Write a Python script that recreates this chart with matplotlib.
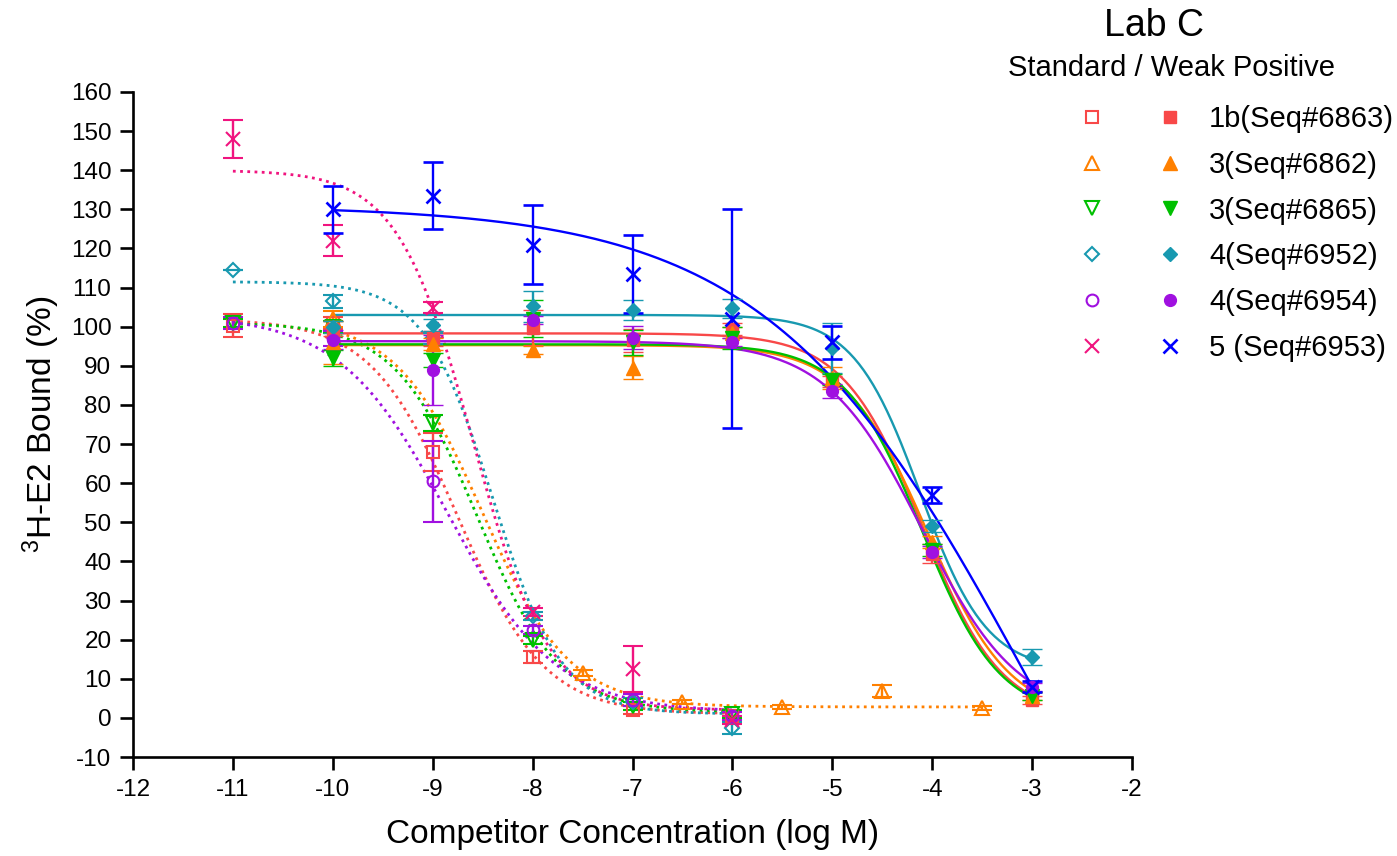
import numpy as np
import matplotlib
matplotlib.use('Agg')
import matplotlib.pyplot as plt
from matplotlib.lines import Line2D
from matplotlib.legend_handler import HandlerTuple

plt.rcParams['font.family'] = ['Liberation Sans', 'DejaVu Sans']
plt.rcParams['axes.unicode_minus'] = False
plt.rcParams['mathtext.fontset'] = 'custom'
plt.rcParams['mathtext.rm'] = 'Liberation Sans'

# ---------------- data ----------------
series_names = ['1b(Seq#6863)', '3(Seq#6862)', '3(Seq#6865)', '4(Seq#6952)', '4(Seq#6954)', '5 (Seq#6953)']
std_colors = ['#F84848', '#FF8000', '#00C000', '#1899B0', '#A010E0', '#F0147F']
weak_colors = ['#F84848', '#FF8000', '#00C000', '#1899B0', '#A010E0', '#0000FF']
markers = ['s', '^', 'v', 'D', 'o', 'x']
marker_sizes = [8.5, 9.5, 9.5, 7.5, 8.5, 10.5]

# Standard (open markers, dotted fits)
std_x = [-11, -10, -9, -8, -7, -6]
std_1b_y = [100.3, 101, 68, 15.5, 2, 0.5]
std_1b_err = [2.9, 1.5, 4.8, 1.5, 1, 1]
std_6862_x = [-10, -7.5, -6.5, -5.5, -4.5, -3.5]
std_6862_y = [102, 11.5, 4, 2.8, 6.8, 2.6]
std_6862_err = [2, 0.8, 0.5, 0.5, 1.5, 0.5]
std_6865_y = [101, 100, 75.4, 20, 3, 1]
std_6865_err = [1, 1.5, 2, 1, 1, 1]
std_6952_y = [114.5, 106.5, 97, 26, 4, -2.5]
std_6952_err = [0, 1.7, 1.5, 1, 1, 1.5]
std_6954_y = [101, 97, 60.5, 22.5, 4.5, 0.5]
std_6954_err = [1.5, 2, 10.3, 1, 1.5, 1]
std_6953_y = [148, 122, 104.8, 27, 12.5, -0.5]
std_6953_err = [4.8, 4, 1.4, 1, 5.8, 1]

# Weak positive (filled markers, solid fits)
weak_x = [-10, -9, -8, -7, -6, -5, -4, -3]
weak_1b_y = [99.5, 97, 99.7, 96.5, 99.5, 86, 42, 4.5]
weak_1b_err = [2, 2, 4.5, 3, 1.5, 1.5, 2.5, 1]
weak_6862_y = [96, 95.5, 94, 89.5, 98.5, 87, 45, 5.5]
weak_6862_err = [5.5, 1.5, 1, 2.9, 1.5, 2.8, 1.5, 1]
weak_6865_y = [92, 91.5, 102, 96, 97, 86.5, 43, 5.5]
weak_6865_err = [2, 1.8, 4.7, 3.2, 2.8, 1.5, 1.5, 1]
weak_6952_y = [100, 100.5, 105.2, 104.3, 104.7, 94.6, 49, 15.5]
weak_6952_err = [1.5, 1.5, 4, 2.5, 2.5, 6.4, 1.5, 2]
weak_6954_y = [96.7, 89, 101.8, 97.2, 96, 83.5, 42.5, 8]
weak_6954_err = [2.5, 9, 1, 3, 1, 1.8, 1.5, 1]
weak_6953_y = [130, 133.5, 121, 113.5, 102, 96, 57, 8]
weak_6953_err = [6, 8.5, 10, 10, 28, 4.3, 2, 1.5]

# Fitted 4-parameter logistic parameters (top, bottom, logIC50, hill) and fit ranges
std_fit_top = [102, 102, 101, 111.5, 103, 140]
std_fit_bottom = [1, 2.8, 1.5, 1, 1.5, 2]
std_fit_logic50 = [-8.75, -8.5, -8.55, -8.4, -8.85, -8.6]
std_fit_hill = [1.0, 1.0, 1.05, 1.25, 0.8, 1.15]
std_fit_start = [-11, -10, -11, -11, -11, -11]
std_fit_end = [-6, -3.5, -6, -6, -6, -6]

weak_fit_top = [98.3, 95.3, 95.5, 103, 96.3, 131]
weak_fit_bottom = [0, 0, 0, 12, 0, -115]
weak_fit_logic50 = [-4.1, -4.05, -4.1, -4.12, -4.1, -3.0]
weak_fit_hill = [1.1, 1.05, 1.12, 1.3, 0.9, 0.33]
weak_fit_start = [-10] * 6
weak_fit_end = [-3] * 6

std_series = [
    (std_x, std_1b_y, std_1b_err),
    (std_6862_x, std_6862_y, std_6862_err),
    (std_x, std_6865_y, std_6865_err),
    (std_x, std_6952_y, std_6952_err),
    (std_x, std_6954_y, std_6954_err),
    (std_x, std_6953_y, std_6953_err),
]
weak_series = [
    (weak_x, weak_1b_y, weak_1b_err),
    (weak_x, weak_6862_y, weak_6862_err),
    (weak_x, weak_6865_y, weak_6865_err),
    (weak_x, weak_6952_y, weak_6952_err),
    (weak_x, weak_6954_y, weak_6954_err),
    (weak_x, weak_6953_y, weak_6953_err),
]


def logistic(x, top, bottom, logic50, hill):
    return bottom + (top - bottom) / (1 + 10 ** ((x - logic50) * hill))


# ---------------- figure ----------------
W, H = 1397, 856
fig = plt.figure(figsize=(W / 100, H / 100), dpi=100)
ax = fig.add_axes([133 / W, 1 - 757 / H, (1132 - 133) / W, (757 - 92) / H])

# fitted curves
for i in range(6):
    xs = np.linspace(std_fit_start[i], std_fit_end[i], 300)
    ax.plot(xs, logistic(xs, std_fit_top[i], std_fit_bottom[i], std_fit_logic50[i], std_fit_hill[i]),
            color=std_colors[i], lw=2.0, linestyle=(0, (1, 1.6)), zorder=2)
for i in range(6):
    xs = np.linspace(weak_fit_start[i], weak_fit_end[i], 300)
    ax.plot(xs, logistic(xs, weak_fit_top[i], weak_fit_bottom[i], weak_fit_logic50[i], weak_fit_hill[i]),
            color=weak_colors[i], lw=1.7, linestyle='-', zorder=3)

# data points with error bars
for i, (xv, yv, ev) in enumerate(std_series):
    ax.errorbar(xv, yv, yerr=ev, fmt=markers[i], color=std_colors[i], mfc='none',
                mec=std_colors[i], mew=1.5, ms=marker_sizes[i], elinewidth=1.7,
                capsize=7.5, capthick=1.7, zorder=4, clip_on=False)
for i, (xv, yv, ev) in enumerate(weak_series):
    ax.errorbar(xv, yv, yerr=ev, fmt=markers[i], color=weak_colors[i], mfc=weak_colors[i],
                mec=weak_colors[i], mew=1.9 if markers[i] == 'x' else 1.0, ms=marker_sizes[i],
                elinewidth=1.7, capsize=7.5, capthick=1.7, zorder=5, clip_on=False)

ax.set_xlim(-12, -2)
ax.set_ylim(-10, 160)
ax.set_xticks(np.arange(-12, -1, 1))
ax.set_yticks(np.arange(-10, 161, 10))
for s in ['top', 'right']:
    ax.spines[s].set_visible(False)
for s in ['left', 'bottom']:
    ax.spines[s].set_linewidth(1.9)
ax.tick_params(direction='out', length=9.5, width=1.9, labelsize=17.5, pad=6)
ax.set_xlabel('Competitor Concentration (log M)', fontsize=24, labelpad=13)
ax.set_ylabel(r'$\mathregular{^3}$H-E2 Bound (%)', fontsize=24, labelpad=6)

# title texts
fig.text(1154 / W, 1 - 26 / H, 'Lab C', fontsize=27, ha='center', va='center')
fig.text(1171 / W, 1 - 68 / H, 'Standard / Weak Positive', fontsize=21, ha='center', va='center')

# legend
handles = []
for i in range(6):
    h_open = Line2D([], [], linestyle='none', marker=markers[i], mfc='none', mec=std_colors[i],
                    mew=1.5, ms=marker_sizes[i])
    h_fill = Line2D([], [], linestyle='none', marker=markers[i], mfc=weak_colors[i], mec=weak_colors[i],
                    mew=1.9 if markers[i] == 'x' else 1.0, ms=marker_sizes[i])
    handles.append((h_open, h_fill))
fs_leg = 21
fs_px = fs_leg * 100 / 72
leg = fig.legend(handles, series_names, handler_map={tuple: HandlerTuple(ndivide=None, pad=0)},
                 loc='upper left', bbox_to_anchor=(1053 / W, 1 - 105 / H), bbox_transform=fig.transFigure,
                 frameon=False, fontsize=fs_leg, handlelength=156 / fs_px, handletextpad=0.0,
                 labelspacing=0.61, borderpad=0, borderaxespad=0)

fig.savefig('out.png', dpi=100)
